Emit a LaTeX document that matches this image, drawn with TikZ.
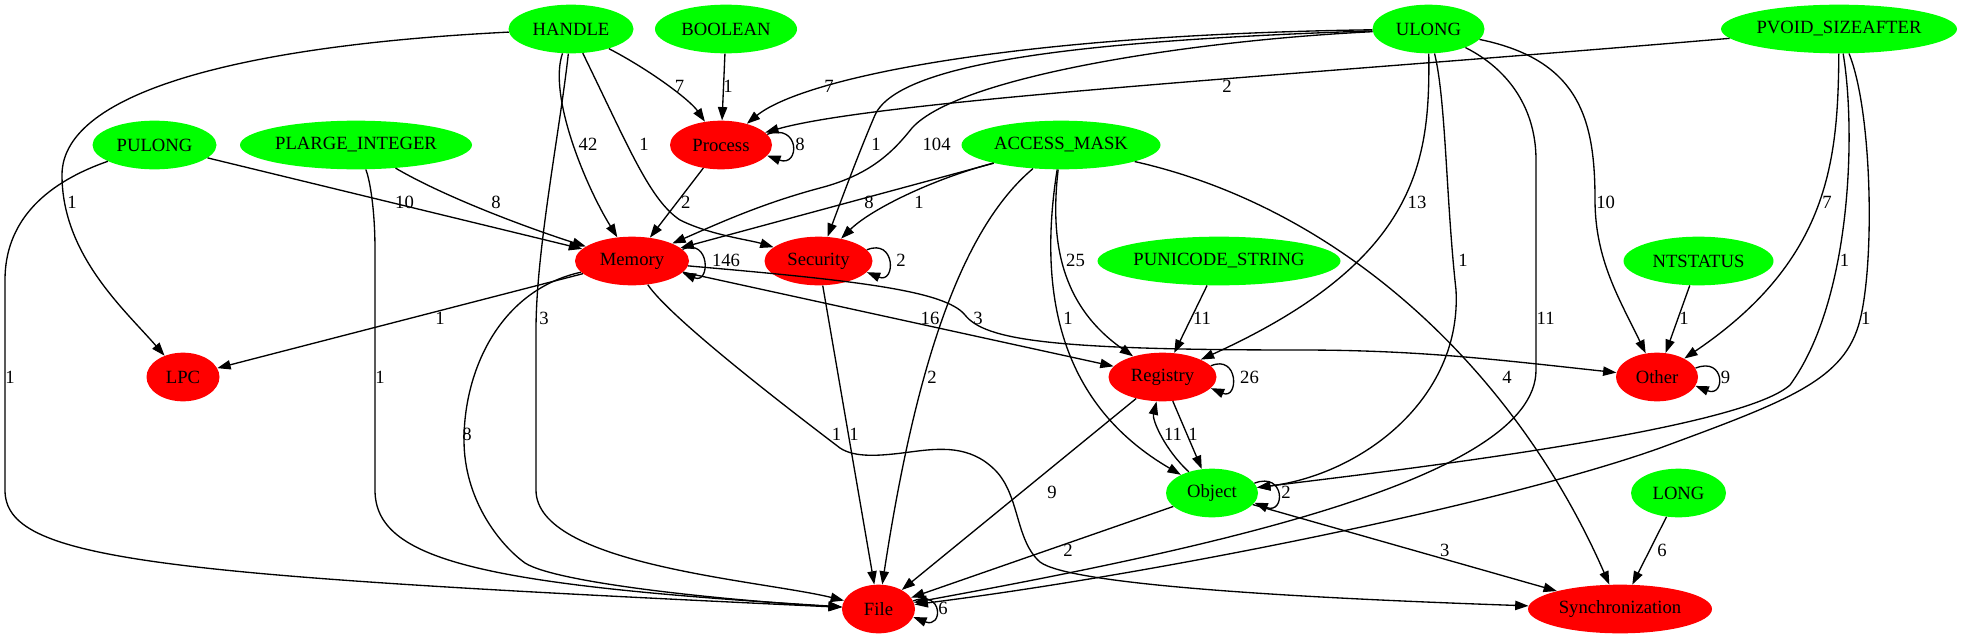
\documentclass[tikz,border=0pt]{standalone}
\usepackage{fontspec}
\setmainfont{Liberation Serif}
\usetikzlibrary{arrows.meta,shapes.geometric}
\definecolor{ngreen}{RGB}{0,255,0}
\definecolor{nred}{RGB}{255,0,0}
\begin{document}
\begin{tikzpicture}[x=0.75pt,y=-0.75pt,
  nd/.style={ellipse, draw=none, inner sep=0pt, minimum height=36.5pt, minimum width=#1*0.75pt, font=\fontsize{14}{16}\selectfont},
  gn/.style={nd=#1, fill=ngreen},
  rn/.style={nd=#1, fill=nred},
  conn/.style={draw=black, line width=1pt, -{Triangle[length=10pt,width=7pt]}},
  lbl/.style={font=\fontsize{14}{16}\selectfont, inner sep=0pt}
]
\useasboundingbox (0,0) rectangle (1962,639);
% nodes
\node[gn=125] (HANDLE) at (571,29) {HANDLE};
\node[gn=142] (BOOLEAN) at (726,29) {BOOLEAN};
\node[gn=112] (ULONG) at (1428.5,29) {ULONG};
\node[gn=236] (PVOID) at (1839,29) {PVOID\_SIZEAFTER};
\node[gn=124] (PULONG) at (154.5,145) {PULONG};
\node[gn=232] (PLARGE) at (356,145) {PLARGE\_INTEGER};
\node[rn=102] (Process) at (721,145) {Process};
\node[gn=199] (ACCESS) at (1061,145) {ACCESS\_MASK};
\node[rn=114] (Memory) at (632,261) {Memory};
\node[rn=108] (Security) at (818.5,261) {Security};
\node[gn=243] (PUNI) at (1219,261) {PUNICODE\_STRING};
\node[gn=150] (NTSTATUS) at (1698.5,261) {NTSTATUS};
\node[rn=73] (LPC) at (183,377) {LPC};
\node[rn=108] (Registry) at (1162.5,377) {Registry};
\node[rn=82] (Other) at (1657,377) {Other};
\node[gn=92] (Object) at (1212,493) {Object};
\node[gn=95] (LONG) at (1678.5,493) {LONG};
\node[rn=73] (File) at (878.5,609) {File};
\node[rn=184] (Sync) at (1620,609) {Synchronization};

% HANDLE
\draw[conn] (HANDLE) .. controls (250,45) and (62,90) .. (62,175) .. controls (62,255) and (125,310) .. (LPC);
\draw[conn] (HANDLE) .. controls (650,70) and (690,100) .. (Process);
\draw[conn] (HANDLE) .. controls (548,95) and (585,185) .. (Memory);
\draw[conn] (HANDLE) .. controls (630,150) and (650,200) .. (680,220) .. controls (710,235) and (750,240) .. (Security);
\draw[conn] (HANDLE) .. controls (560,130) and (536,250) .. (536,330) -- (536,490) .. controls (536,565) and (760,580) .. (File);
% BOOLEAN
\draw[conn] (BOOLEAN) -- (Process);
% ULONG
\draw[conn] (ULONG) .. controls (1000,35) and (800,80) .. (Process);
\draw[conn] (ULONG) .. controls (1100,40) and (900,60) .. (875,115) .. controls (860,150) and (845,190) .. (Security);
\draw[conn] (ULONG) .. controls (1200,40) and (960,75) .. (912,128) .. controls (893,152) and (870,175) .. (820,188) .. controls (760,204) and (715,225) .. (Memory);
\draw[conn] (ULONG) .. controls (1430,160) and (1420,260) .. (Registry);
\draw[conn] (ULONG) .. controls (1446,100) and (1446,200) .. (1456,290) .. controls (1462,400) and (1360,475) .. (Object);
\draw[conn] (ULONG) .. controls (1510,70) and (1536,110) .. (1536,160) -- (1536,370) .. controls (1536,480) and (1200,550) .. (File);
\draw[conn] (ULONG) .. controls (1580,60) and (1595,120) .. (1595,200) .. controls (1595,260) and (1620,300) .. (Other);
% PVOID
\draw[conn] (PVOID) .. controls (1300,75) and (880,100) .. (Process);
\draw[conn] (PVOID) .. controls (1838,160) and (1830,260) .. (Other);
\draw[conn] (PVOID) .. controls (1856,130) and (1852,300) .. (1790,385) .. controls (1740,430) and (1400,470) .. (Object);
\draw[conn] (PVOID) .. controls (1872,110) and (1875,260) .. (1860,320) .. controls (1845,380) and (1790,400) .. (1660,448) .. controls (1500,505) and (1150,575) .. (File);
% PULONG
\draw[conn] (PULONG) -- (Memory);
\draw[conn] (PULONG) .. controls (40,185) and (5,225) .. (5,280) -- (5,490) .. controls (5,560) and (150,575) .. (File);
% PLARGE
\draw[conn] (PLARGE) .. controls (450,200) and (540,232) .. (Memory);
\draw[conn] (PLARGE) .. controls (370,180) and (375,210) .. (375,250) -- (375,490) .. controls (375,560) and (480,585) .. (File);
% ACCESS_MASK
\draw[conn] (ACCESS) -- (Memory);
\draw[conn] (ACCESS) .. controls (930,180) and (870,210) .. (Security);
\draw[conn] (ACCESS) .. controls (960,230) and (915,370) .. (File);
\draw[conn] (ACCESS) .. controls (1050,240) and (1060,305) .. (Registry);
\draw[conn] (ACCESS) .. controls (1035,310) and (1070,410) .. (Object);
\draw[conn] (ACCESS) .. controls (1350,210) and (1520,380) .. (Sync);
% Process
\draw[conn] (Process.13) .. controls +(33,-12) and +(33,12) .. (Process.-13);
\draw[conn] (Process) -- (Memory);
% Memory
\draw[conn] (Memory.13) .. controls +(28,-12) and +(28,12) .. (Memory.-13);
\draw[conn] (Memory) -- (LPC);
\draw[conn] (Memory) -- (Registry);
\draw[conn] (Memory) .. controls (850,280) and (945,290) .. (965,315) .. controls (985,340) and (1050,350) .. (1300,350) .. controls (1420,350) and (1500,360) .. (Other);
\draw[conn] (Memory) .. controls (500,290) and (464,370) .. (464,440) .. controls (464,500) and (500,545) .. (525,563) .. controls (560,585) and (750,602) .. (File);
\draw[conn] (Memory) .. controls (670,318) and (790,410) .. (840,448) .. controls (855,458) and (880,456) .. (910,452) .. controls (940,448) and (970,445) .. (995,470) .. controls (1020,495) and (1015,540) .. (1040,562) .. controls (1070,585) and (1300,598) .. (Sync);
% Security
\draw[conn] (Security.13) .. controls +(29,-12) and +(29,12) .. (Security.-13);
\draw[conn] (Security) -- (File);
% others
\draw[conn] (PUNI) -- (Registry);
\draw[conn] (NTSTATUS) -- (Other);
\draw[conn] (Registry.13) .. controls +(28,-12) and +(28,12) .. (Registry.-13);
\draw[conn] (Registry) -- (Object);
\draw[conn] (Object) .. controls (1165,450) and (1152,420) .. (Registry);
\draw[conn] (Registry) -- (File);
\draw[conn] (Object.13) .. controls +(31,-12) and +(31,12) .. (Object.-13);
\draw[conn] (Object) -- (File);
\draw[conn] (Object) -- (Sync);
\draw[conn] (LONG) -- (Sync);
\draw[conn] (Other.13) .. controls +(30,-12) and +(30,12) .. (Other.-13);
\draw[conn] (File.13) .. controls +(30,-12) and +(30,12) .. (File.-13);

% labels
\node[lbl] (l1) at (72,202) {1};
\node[lbl] (l2) at (679.5,86) {7};
\node[lbl] (l3) at (588,144) {42};
\node[lbl] (l4) at (644,144) {1};
\node[lbl] (l5) at (544,318) {3};
\node[lbl] (l6) at (728,86) {1};
\node[lbl] (l7) at (829,86) {7};
\node[lbl] (l8) at (876,144) {1};
\node[lbl] (l9) at (936.6,144) {104};
\node[lbl] (l10) at (1417,202) {13};
\node[lbl] (l11) at (1463,260) {1};
\node[lbl] (l12) at (1545.7,318) {11};
\node[lbl] (l13) at (1605.7,202) {10};
\node[lbl] (l14) at (1227,86) {2};
\node[lbl] (l15) at (1827,202) {7};
\node[lbl] (l16) at (1844.6,260) {1};
\node[lbl] (l17) at (1865.7,318) {1};
\node[lbl] (l18) at (404.5,202) {10};
\node[lbl] (l19) at (10,377) {1};
\node[lbl] (l20) at (496,202) {8};
\node[lbl] (l21) at (380,377) {1};
\node[lbl] (l22) at (869,202) {8};
\node[lbl] (l23) at (919,202) {1};
\node[lbl] (l24) at (932,377) {2};
\node[lbl] (l25) at (1075.5,260) {25};
\node[lbl] (l26) at (1068,318) {1};
\node[lbl] (l27) at (1507,377) {4};
\node[lbl] (l28) at (800,144) {8};
\node[lbl] (l29) at (685.7,202) {2};
\node[lbl] (l30) at (726,260) {146};
\node[lbl] (l31) at (440,318) {1};
\node[lbl] (l32) at (930,318) {16};
\node[lbl] (l33) at (978,318) {3};
\node[lbl] (l34) at (467,434) {8};
\node[lbl] (l35) at (836.6,434) {1};
\node[lbl] (l36) at (901,260) {2};
\node[lbl] (l37) at (854,434) {1};
\node[lbl] (l38) at (1202,318) {11};
\node[lbl] (l39) at (1684,318) {1};
\node[lbl] (l40) at (1249.5,377) {26};
\node[lbl] (l41) at (1193,434) {1};
\node[lbl] (l42) at (1173,434) {11};
\node[lbl] (l43) at (1052,492) {9};
\node[lbl] (l44) at (1286,492) {2};
\node[lbl] (l45) at (1068,550) {2};
\node[lbl] (l46) at (1444.8,550) {3};
\node[lbl] (l47) at (1662,550) {6};
\node[lbl] (l48) at (1725.6,377) {9};
\node[lbl] (l49) at (943,608) {6};
\end{tikzpicture}
\end{document}
